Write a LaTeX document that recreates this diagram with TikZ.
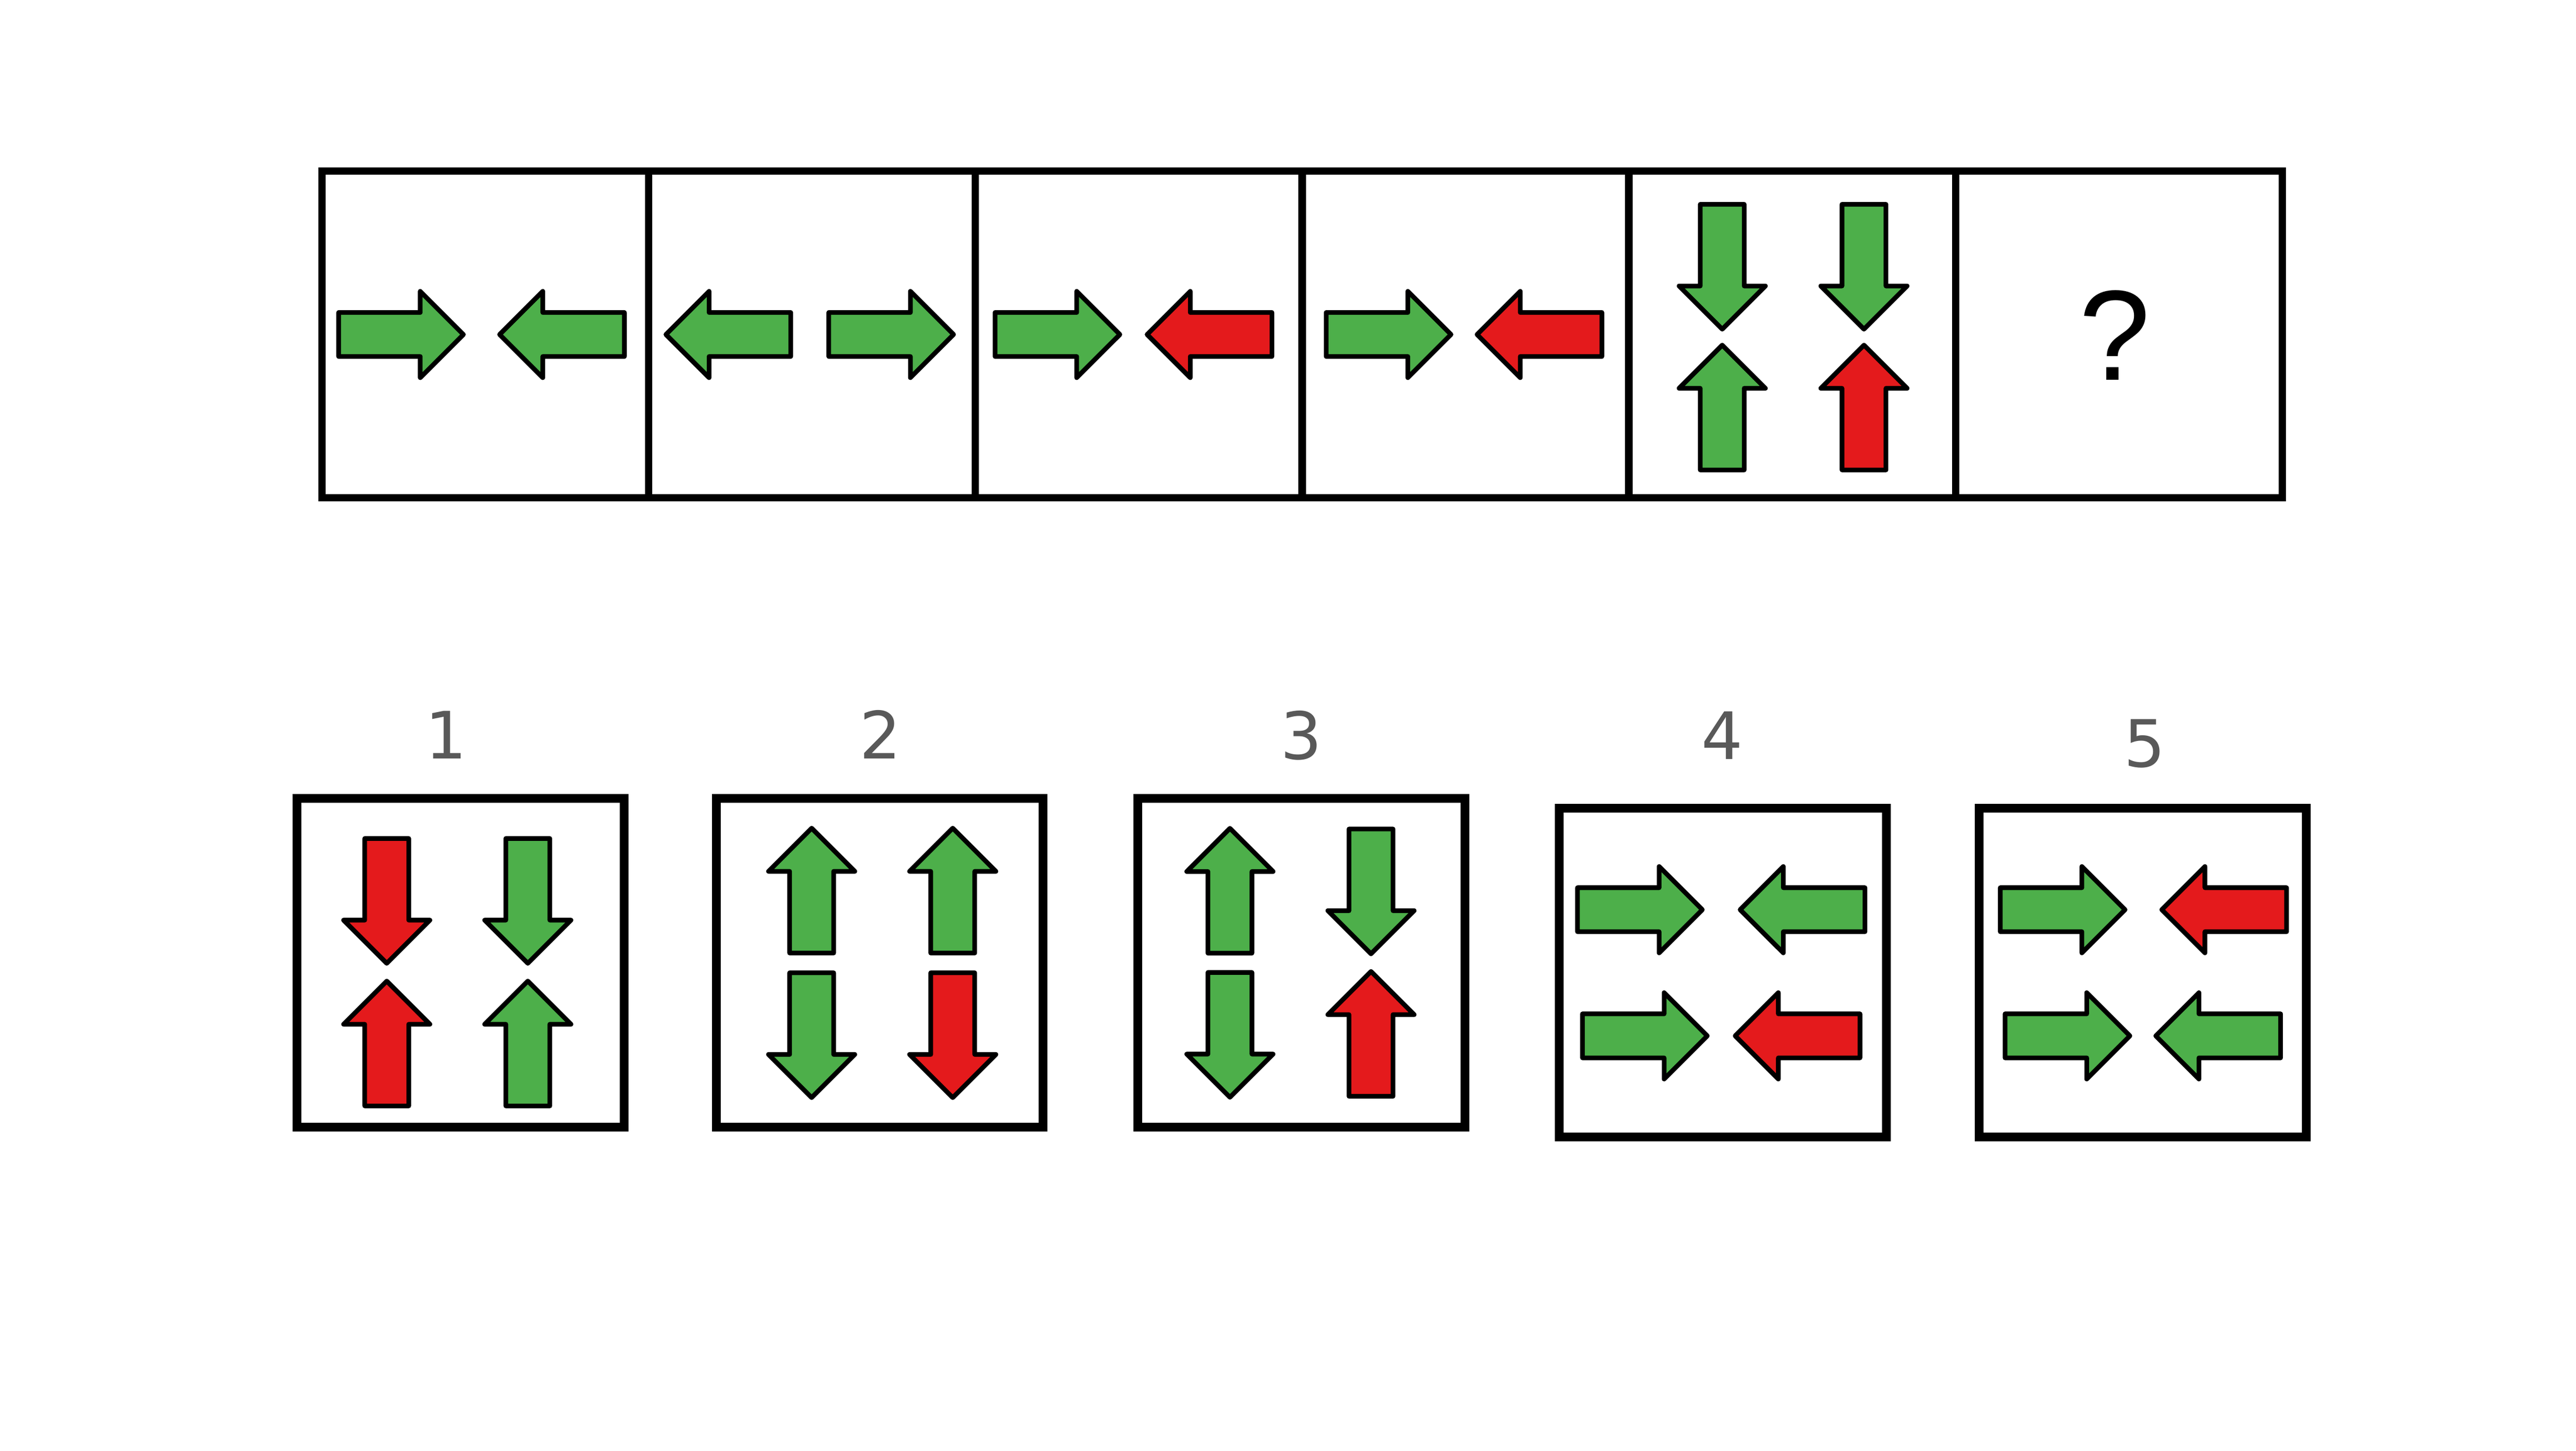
\documentclass[tikz,border=0pt]{standalone}
\usepackage{fontspec}
\usetikzlibrary{shapes.arrows}

\newfontfamily\labelfont{DejaVu Sans}
\newfontfamily\askfont{Liberation Sans}

\definecolor{arrgreen}{HTML}{4DAF4A}
\definecolor{arrred}{HTML}{E41A1C}
\definecolor{labelgray}{HTML}{595959}

\tikzset{
    cell/.style = {draw, line width = 1.25pt, minimum size = 19.683mm, inner sep = 0pt, outer sep = 0pt},
    choice/.style = {draw, line width = 1.5pt, minimum width = 19.7mm, minimum height = 19.8mm, inner sep = 0pt, outer sep = 0pt},
    arr/.style = {single arrow, draw = black, line width = 0.8pt, line join = round, outer sep = 0pt,
        inner xsep = 0pt, inner ysep = 1.185mm, single arrow head extend = 1.275mm,
        single arrow tip angle = 90, minimum height = 7.52mm, anchor = tip},
    garrow/.style = {arr, fill = arrgreen},
    rarrow/.style = {arr, fill = arrred},
    lbl/.style = {anchor = base, text = labelgray, font = \labelfont\fontsize{11.2}{13}\selectfont}
}

\begin{document}
\begin{tikzpicture}[x = 0.1mm, y = -0.1mm]
    \path[fill = white] (0,0) rectangle (1552,874);

    \node[cell] (t1) at (292.4,201.5) {};
    \node[cell] (t2) at (489.2,201.5) {};
    \node[cell] (t3) at (686.1,201.5) {};
    \node[cell] (t4) at (882.9,201.5) {};
    \node[cell] (t5) at (1079.8,201.5) {};
    \node[cell] (t6) at (1276.6,201.5) {};

    \node[garrow] (t1a) at (279.2,201.5) {};
    \node[garrow, rotate = 180] (t1b) at (301,201.5) {};

    \node[garrow, rotate = 180] (t2a) at (401.2,201.5) {};
    \node[garrow] (t2b) at (574.5,201.5) {};

    \node[garrow] (t3a) at (674.7,201.5) {};
    \node[rarrow, rotate = 180] (t3b) at (691.1,201.5) {};

    \node[garrow] (t4a) at (874.2,201.5) {};
    \node[rarrow, rotate = 180] (t4b) at (889.9,201.5) {};

    \node[garrow, rotate = 270] (t5a) at (1037.6,198.3) {};
    \node[garrow, rotate = 270] (t5b) at (1123,198.3) {};
    \node[garrow, rotate = 90] (t5c) at (1037.6,207.9) {};
    \node[rarrow, rotate = 90] (t5d) at (1123,207.9) {};

    \node[anchor = base, font = \askfont\fontsize{22}{26}\selectfont] (ask) at (1274,228.8) {?};


    \node[lbl] (n1) at (268.6,457) {1};
    \node[lbl] (n2) at (530.4,457) {2};
    \node[lbl] (n3) at (784,457.5) {3};
    \node[lbl] (n4) at (1037.5,457.5) {4};
    \node[lbl] (n5) at (1292,462) {5};

    \node[choice] (b1) at (277.5,580) {};
    \node[choice] (b2) at (530,580) {};
    \node[choice] (b3) at (784,580) {};
    \node[choice] (b4) at (1038,586) {};
    \node[choice] (b5) at (1291,586) {};

    \node[rarrow, rotate = 270] (b1a) at (233,580.3) {};
    \node[garrow, rotate = 270] (b1b) at (318,580.3) {};
    \node[rarrow, rotate = 90] (b1c) at (233,591) {};
    \node[garrow, rotate = 90] (b1d) at (318,591) {};

    \node[garrow, rotate = 90] (b2a) at (489,498.9) {};
    \node[garrow, rotate = 90] (b2b) at (574,498.9) {};
    \node[garrow, rotate = 270] (b2c) at (489,661.2) {};
    \node[rarrow, rotate = 270] (b2d) at (574,661.2) {};

    \node[garrow, rotate = 90] (b3a) at (741,499) {};
    \node[garrow, rotate = 270] (b3b) at (826,574.6) {};
    \node[garrow, rotate = 270] (b3c) at (741,661) {};
    \node[rarrow, rotate = 90] (b3d) at (826,585.2) {};

    \node[garrow] (b4a) at (1025.6,548) {};
    \node[garrow, rotate = 180] (b4b) at (1048.4,548) {};
    \node[garrow] (b4c) at (1028.6,624) {};
    \node[rarrow, rotate = 180] (b4d) at (1045.4,624) {};

    \node[garrow] (b5a) at (1280.3,548) {};
    \node[rarrow, rotate = 180] (b5b) at (1302.4,548) {};
    \node[garrow] (b5c) at (1283.2,624) {};
    \node[garrow, rotate = 180] (b5d) at (1298.8,624) {};
\end{tikzpicture}
\end{document}
